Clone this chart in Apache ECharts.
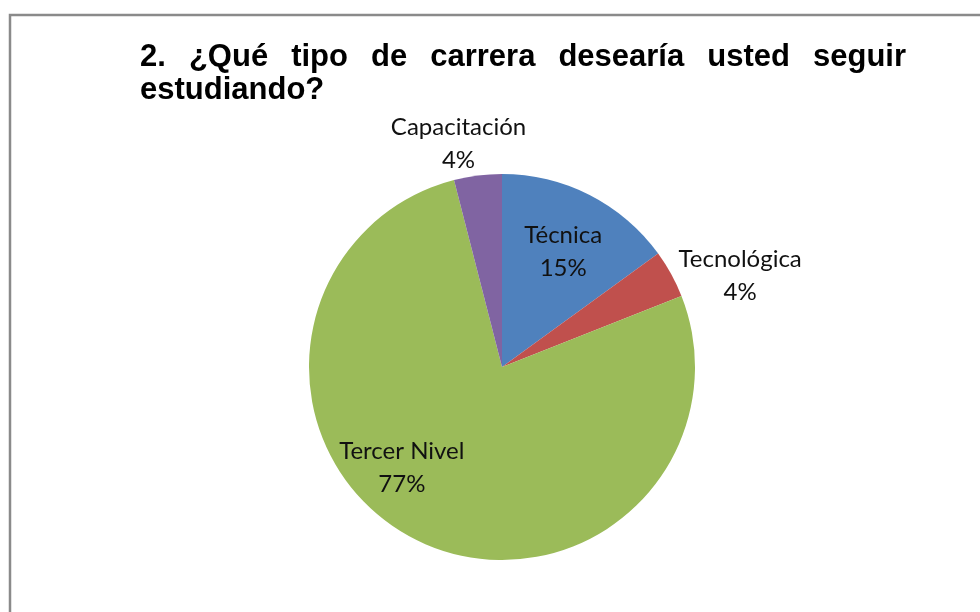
<!DOCTYPE html>
<html>
<head>
<meta charset="utf-8">
<script src="https://cdn.jsdelivr.net/npm/echarts@6/dist/echarts.min.js"></script>
<style>
  html, body { margin: 0; padding: 0; background: #fff; }
  #main { width: 980px; height: 612px; }
</style>
</head>
<body>
<div id="main"></div>
<script>
var categories = ["Técnica", "Tecnológica", "Tercer Nivel", "Capacitación"];
var values = [15, 4, 77, 4];
var colors = ["#4F81BD", "#C0504D", "#9BBB59", "#8064A2"];
// title words, laid out justified like the original
var titleLine1 = ["2.", "¿Qué", "tipo", "de", "carrera", "desearía", "usted", "seguir"];
var titleLine2 = "estudiando?";

var chartDom = document.getElementById("main");
var myChart = echarts.init(chartDom);

// label offsets from the default inside position
var labelOffsets = [[16, -27], [151, -43], [-55, 12], [-31, -125]];

var titleFont = 'bold 31px "Liberation Sans", Arial, sans-serif';
var words = [];
var left = 140, right = 906;
var ctx = document.createElement("canvas").getContext("2d");
ctx.font = titleFont;
var total = 0;
titleLine1.forEach(function (w) { total += ctx.measureText(w).width; });
var gap = (right - left - total) / (titleLine1.length - 1);
var x = left;
titleLine1.forEach(function (w) {
  words.push({
    type: "text",
    left: x,
    top: 42,
    style: { text: w, font: titleFont, fill: "#000" }
  });
  x += ctx.measureText(w).width + gap;
});
words.push({
  type: "text",
  left: left,
  top: 75,
  style: { text: titleLine2, font: titleFont, fill: "#000" }
});

var option = {
  animation: false,
  graphic: [
    {
      type: "rect",
      shape: { x: 10, y: 15, width: 1000, height: 700 },
      style: { fill: "none", stroke: "#8a8a8a", lineWidth: 2.5 }
    }
  ].concat(words),
  series: [
    {
      type: "pie",
      center: [502, 367],
      radius: 193,
      startAngle: 90,
      clockwise: true,
      label: {
        position: "inside",
        formatter: "{b}\n{d}%",
        color: "#111",
        fontFamily: 'Lato, "Open Sans", sans-serif',
        fontSize: 24,
        lineHeight: 33
      },
      labelLine: { show: false },
      emphasis: { disabled: true },
      data: categories.map(function (c, i) {
        return {
          name: c,
          value: values[i],
          itemStyle: { color: colors[i] },
          label: { offset: labelOffsets[i] }
        };
      })
    }
  ]
};
option && myChart.setOption(option);
</script>
</body>
</html>
